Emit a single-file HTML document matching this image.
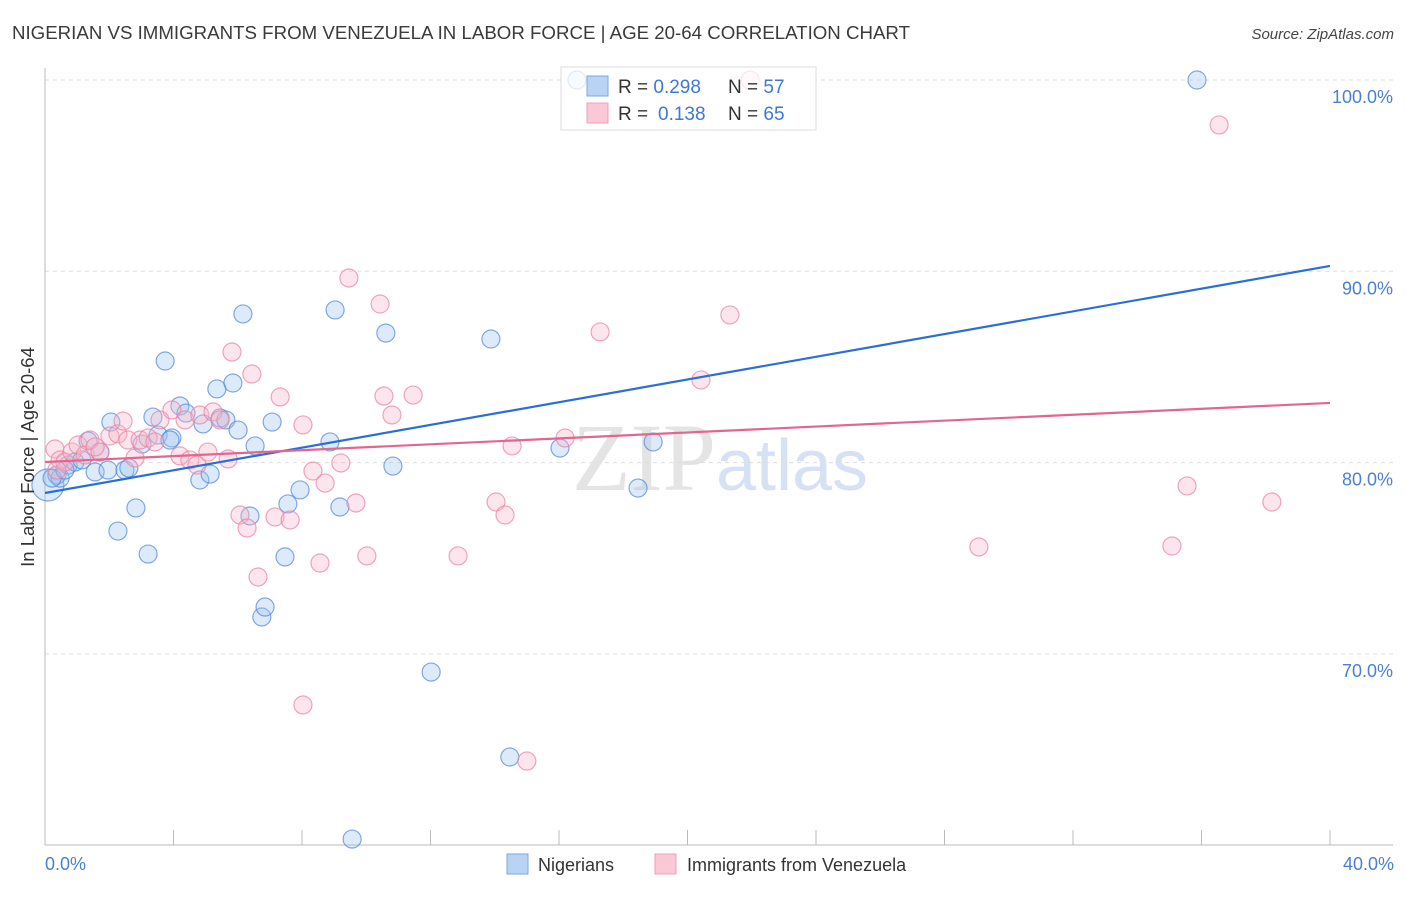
<!DOCTYPE html>
<html><head><meta charset="utf-8"><style>
body{margin:0;background:#fff;font-family:"Liberation Sans",sans-serif}
</style></head><body>
<svg id="chart" width="1406" height="892" xmlns="http://www.w3.org/2000/svg" style="font-family:'Liberation Sans',sans-serif">
<text x="12" y="39" font-size="18" fill="#3a3a3a" textLength="898" lengthAdjust="spacingAndGlyphs">NIGERIAN VS IMMIGRANTS FROM VENEZUELA IN LABOR FORCE | AGE 20-64 CORRELATION CHART</text>
<text x="1394" y="39" font-size="15" fill="#444" text-anchor="end" font-style="italic">Source: ZipAtlas.com</text>
<text x="720" y="490" font-size="96" text-anchor="middle" fill="#e4e4e4" font-family="'Liberation Serif',serif">ZIP<tspan fill="#d6e2f3" font-family="'Liberation Sans',sans-serif" font-size="72">atlas</tspan></text>
<g id="grid"></g><g id="axes"></g>
<g>
<rect x="561" y="67" width="255" height="63" fill="#fff" stroke="#ddd"/>
</g>
<g id="pts"></g><g id="lines"></g>
<g>
<rect x="561" y="67" width="255" height="63" fill="#fff" fill-opacity="0.75" stroke="#ddd"/>
<rect x="587" y="76" width="21" height="20" fill="#b9d3f5" stroke="#7aa7e3"/>
<rect x="587" y="103" width="21" height="20" fill="#fac8d7" stroke="#eea0b8"/>
<text x="618" y="93" font-size="19" fill="#333">R = <tspan fill="#3d78d6">0.298</tspan><tspan x="728">N = </tspan><tspan fill="#3d78d6">57</tspan></text>
<text x="618" y="120" font-size="19" fill="#333">R = <tspan fill="#3d78d6" x="658">0.138</tspan><tspan x="728">N = </tspan><tspan fill="#3d78d6">65</tspan></text>
</g>
<text transform="translate(34,457) rotate(-90)" font-size="18.5" fill="#333" text-anchor="middle">In Labor Force | Age 20-64</text>
<text x="45" y="870" font-size="18" fill="#4a7fd4">0.0%</text>
<text x="1394" y="870" font-size="18" fill="#4a7fd4" text-anchor="end">40.0%</text>
<g>
<rect x="507" y="854" width="21" height="20" fill="#b9d3f5" stroke="#7aa7e3"/>
<text x="538" y="871" font-size="18" fill="#333">Nigerians</text>
<rect x="655" y="854" width="21" height="20" fill="#fac8d7" stroke="#eea0b8"/>
<text x="687" y="871" font-size="18" fill="#333">Immigrants from Venezuela</text>
</g>
</svg>
<script>
const blueX=[16.56,35.86,0.09,0.37,0.47,0.72,0.93,1.34,1.56,1.71,1.96,2.05,2.27,2.49,2.61,2.83,3.02,3.21,3.36,3.52,3.74,3.95,4.20,4.39,4.82,4.92,5.14,5.35,5.45,5.63,5.85,6.01,6.16,6.38,6.54,6.75,6.85,7.07,7.47,7.56,7.94,8.87,9.03,9.18,9.56,10.61,10.83,12.02,13.88,14.47,16.03,18.46,18.93,0.22,0.62,1.15,3.89];
const blueY=[100,100,78.83,79.35,79.19,79.87,80.03,81.13,79.51,80.55,79.61,82.12,76.42,79.61,79.72,77.63,80.97,75.22,82.38,81.44,85.31,81.29,82.96,82.59,79.09,82.02,79.40,83.85,82.33,82.23,84.16,81.70,87.77,77.21,80.87,71.93,72.45,82.12,75.07,77.84,78.57,81.08,87.98,77.68,60.32,86.77,79.82,69.05,86.46,64.61,80.76,78.67,81.08,79.19,79.61,80.14,81.18];
const pinkX=[21.95,36.55,0.31,0.47,0.62,0.84,1.03,1.25,1.40,1.71,2.02,2.27,2.43,2.58,2.80,2.96,3.21,3.42,3.58,3.95,4.20,4.36,4.51,4.73,4.82,5.07,5.23,5.45,5.70,5.82,6.07,6.29,6.44,6.63,7.16,7.32,7.63,8.03,8.03,8.34,8.56,8.72,9.21,9.46,9.68,10.02,10.43,10.55,10.80,11.46,12.86,14.04,14.32,14.54,15.00,16.19,17.28,20.42,21.32,29.07,35.08,35.55,38.19,0.37,1.56];
const pinkY=[100,97.65,80.71,80.14,80.03,80.55,80.92,80.40,81.18,80.55,81.39,81.50,82.17,81.18,80.24,81.18,81.29,81.08,82.23,82.75,80.35,82.23,80.14,79.87,82.49,80.55,82.65,82.23,80.19,85.78,77.26,76.58,84.63,74.02,77.16,83.43,77.00,81.97,67.33,79.56,74.75,78.93,79.98,89.65,77.89,75.12,88.29,83.48,82.49,83.53,75.12,77.94,77.26,80.87,64.40,81.29,86.83,84.32,87.72,75.59,75.64,78.78,77.94,79.61,80.82];
const blueTrend=[78.41,90.28];
const pinkTrend=[80.03,83.12];
const yTicks=[100,90,80,70];
const yTickLabels=["100.0%","90.0%","80.0%","70.0%"];
const xTicks=[0,4,8,12,16,20,24,28,32,36,40];
const NS="http://www.w3.org/2000/svg";
const X=v=>45+v*(1285/40);
const Y=v=>80+(100-v)*19.13;
function mk(tag,attrs,parent){const e=document.createElementNS(NS,tag);for(const k in attrs)e.setAttribute(k,attrs[k]);document.getElementById(parent).appendChild(e);return e;}
yTicks.forEach((t,i)=>{
 const l=mk('line',{x1:45,x2:1393,y1:Y(t),y2:Y(t),stroke:'#ddd','stroke-dasharray':'4,4'},'grid');
 
 
 const tx=mk('text',{x:1393,y:Y(t)+23,'font-size':18,fill:'#4a7fd4','text-anchor':'end'},'grid');
 tx.textContent=yTickLabels[i];
 
 
});
const ax=mk('line',{x1:45,x2:45,y1:68,y2:845,stroke:'#bbb'},'axes');


const bx=mk('line',{x1:45,x2:1393,y1:845,y2:845,stroke:'#bbb'},'axes');


xTicks.forEach(t=>{
 const l=mk('line',{x1:X(t),x2:X(t),y1:830,y2:845,stroke:'#bbb'},'axes');
 
 
});
function pts(xs,ys,fill,stroke,name){
 xs.forEach((x,i)=>{
  const c=mk('circle',{cx:X(x),cy:Y(ys[i]),r:(i==2&&name=='nigerian-point')?16:9,fill:fill,'fill-opacity':0.35,stroke:stroke,'stroke-opacity':0.7,'stroke-width':1.2},'pts');
  
  
 });
}
pts(blueX,blueY,'#9fc3f0','#4f86d8','nigerian-point');
pts(pinkX,pinkY,'#f7b5c9','#e8829f','venezuela-point');
const bl=mk('line',{x1:X(0),y1:Y(blueTrend[0]),x2:X(40),y2:Y(blueTrend[1]),stroke:'#2a6fd6','stroke-width':2.2},'lines');


const pl=mk('line',{x1:X(0),y1:Y(pinkTrend[0]),x2:X(40),y2:Y(pinkTrend[1]),stroke:'#e4668f','stroke-width':2.2},'lines');


</script>
</body></html>
